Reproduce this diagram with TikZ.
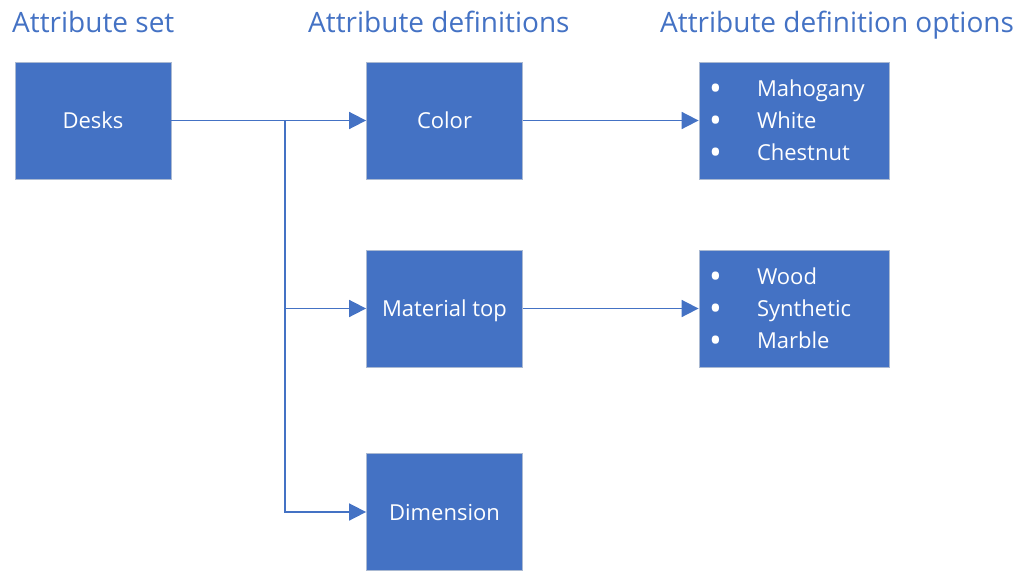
\documentclass[tikz,border=0pt]{standalone}
\usepackage{fontspec}
\setmainfont{Open Sans}
\usetikzlibrary{arrows.meta}
\definecolor{accent}{RGB}{68,114,196}
\definecolor{edgegray}{RGB}{170,185,210}
\tikzset{
  titletext/.style={anchor=base west, inner sep=0pt, text=accent, font=\fontsize{28}{34}\selectfont},
  blockbox/.style={draw=edgegray, line width=0.8pt, fill=accent, text=white,
    minimum width=156pt, minimum height=117pt, inner sep=0pt,
    font=\fontsize{22}{32}\selectfont, text depth=0pt},
  optbox/.style={draw=edgegray, line width=0.8pt, fill=accent, text=white,
    minimum width=190pt, text width=190pt, minimum height=117pt, inner sep=0pt,
    align=left, font=\fontsize{22}{32}\selectfont},
  link/.style={draw=accent, line width=1.7pt},
  linkarrow/.style={link, -{Triangle[length=17pt,width=17pt]}}
}
\newcommand{\optitem}[1]{\hspace*{10pt}\makebox[48pt][l]{\smash{\raisebox{-3.5pt}{\fontsize{34}{32}\selectfont\textbullet}}}#1}
\begin{document}
\begin{tikzpicture}[x=1pt,y=-1pt]
\useasboundingbox (0,0) rectangle (1019,575);
% titles
\node[titletext] (t1) at (12,33) {Attribute set};
\node[titletext] (t2) at (308,33) {Attribute definitions};
\node[titletext] (t3) at (660,33) {Attribute definition options};
% boxes
\node[blockbox] (desks) at (93,120.5) {Desks};
\node[blockbox] (color) at (444.5,120.5) {Color};
\node[blockbox] (mat) at (444.5,308.5) {Material top};
\node[blockbox] (dim) at (444.5,512) {Dimension};
\node[optbox] (opt1) at (794,120.5) {\optitem{Mahogany}\\\optitem{White}\\\optitem{Chestnut}};
\node[optbox] (opt2) at (794,308.5) {\optitem{Wood}\\\optitem{Synthetic}\\\optitem{Marble}};
% connectors
\coordinate (j) at (285,120.5);
\draw[linkarrow] (desks.east) -- (color.west);
\draw[linkarrow] (j) |- (mat.west);
\draw[linkarrow] (j) |- (dim.west);
\draw[linkarrow] (color.east) -- (opt1.west);
\draw[linkarrow] (mat.east) -- (opt2.west);
\end{tikzpicture}
\end{document}
